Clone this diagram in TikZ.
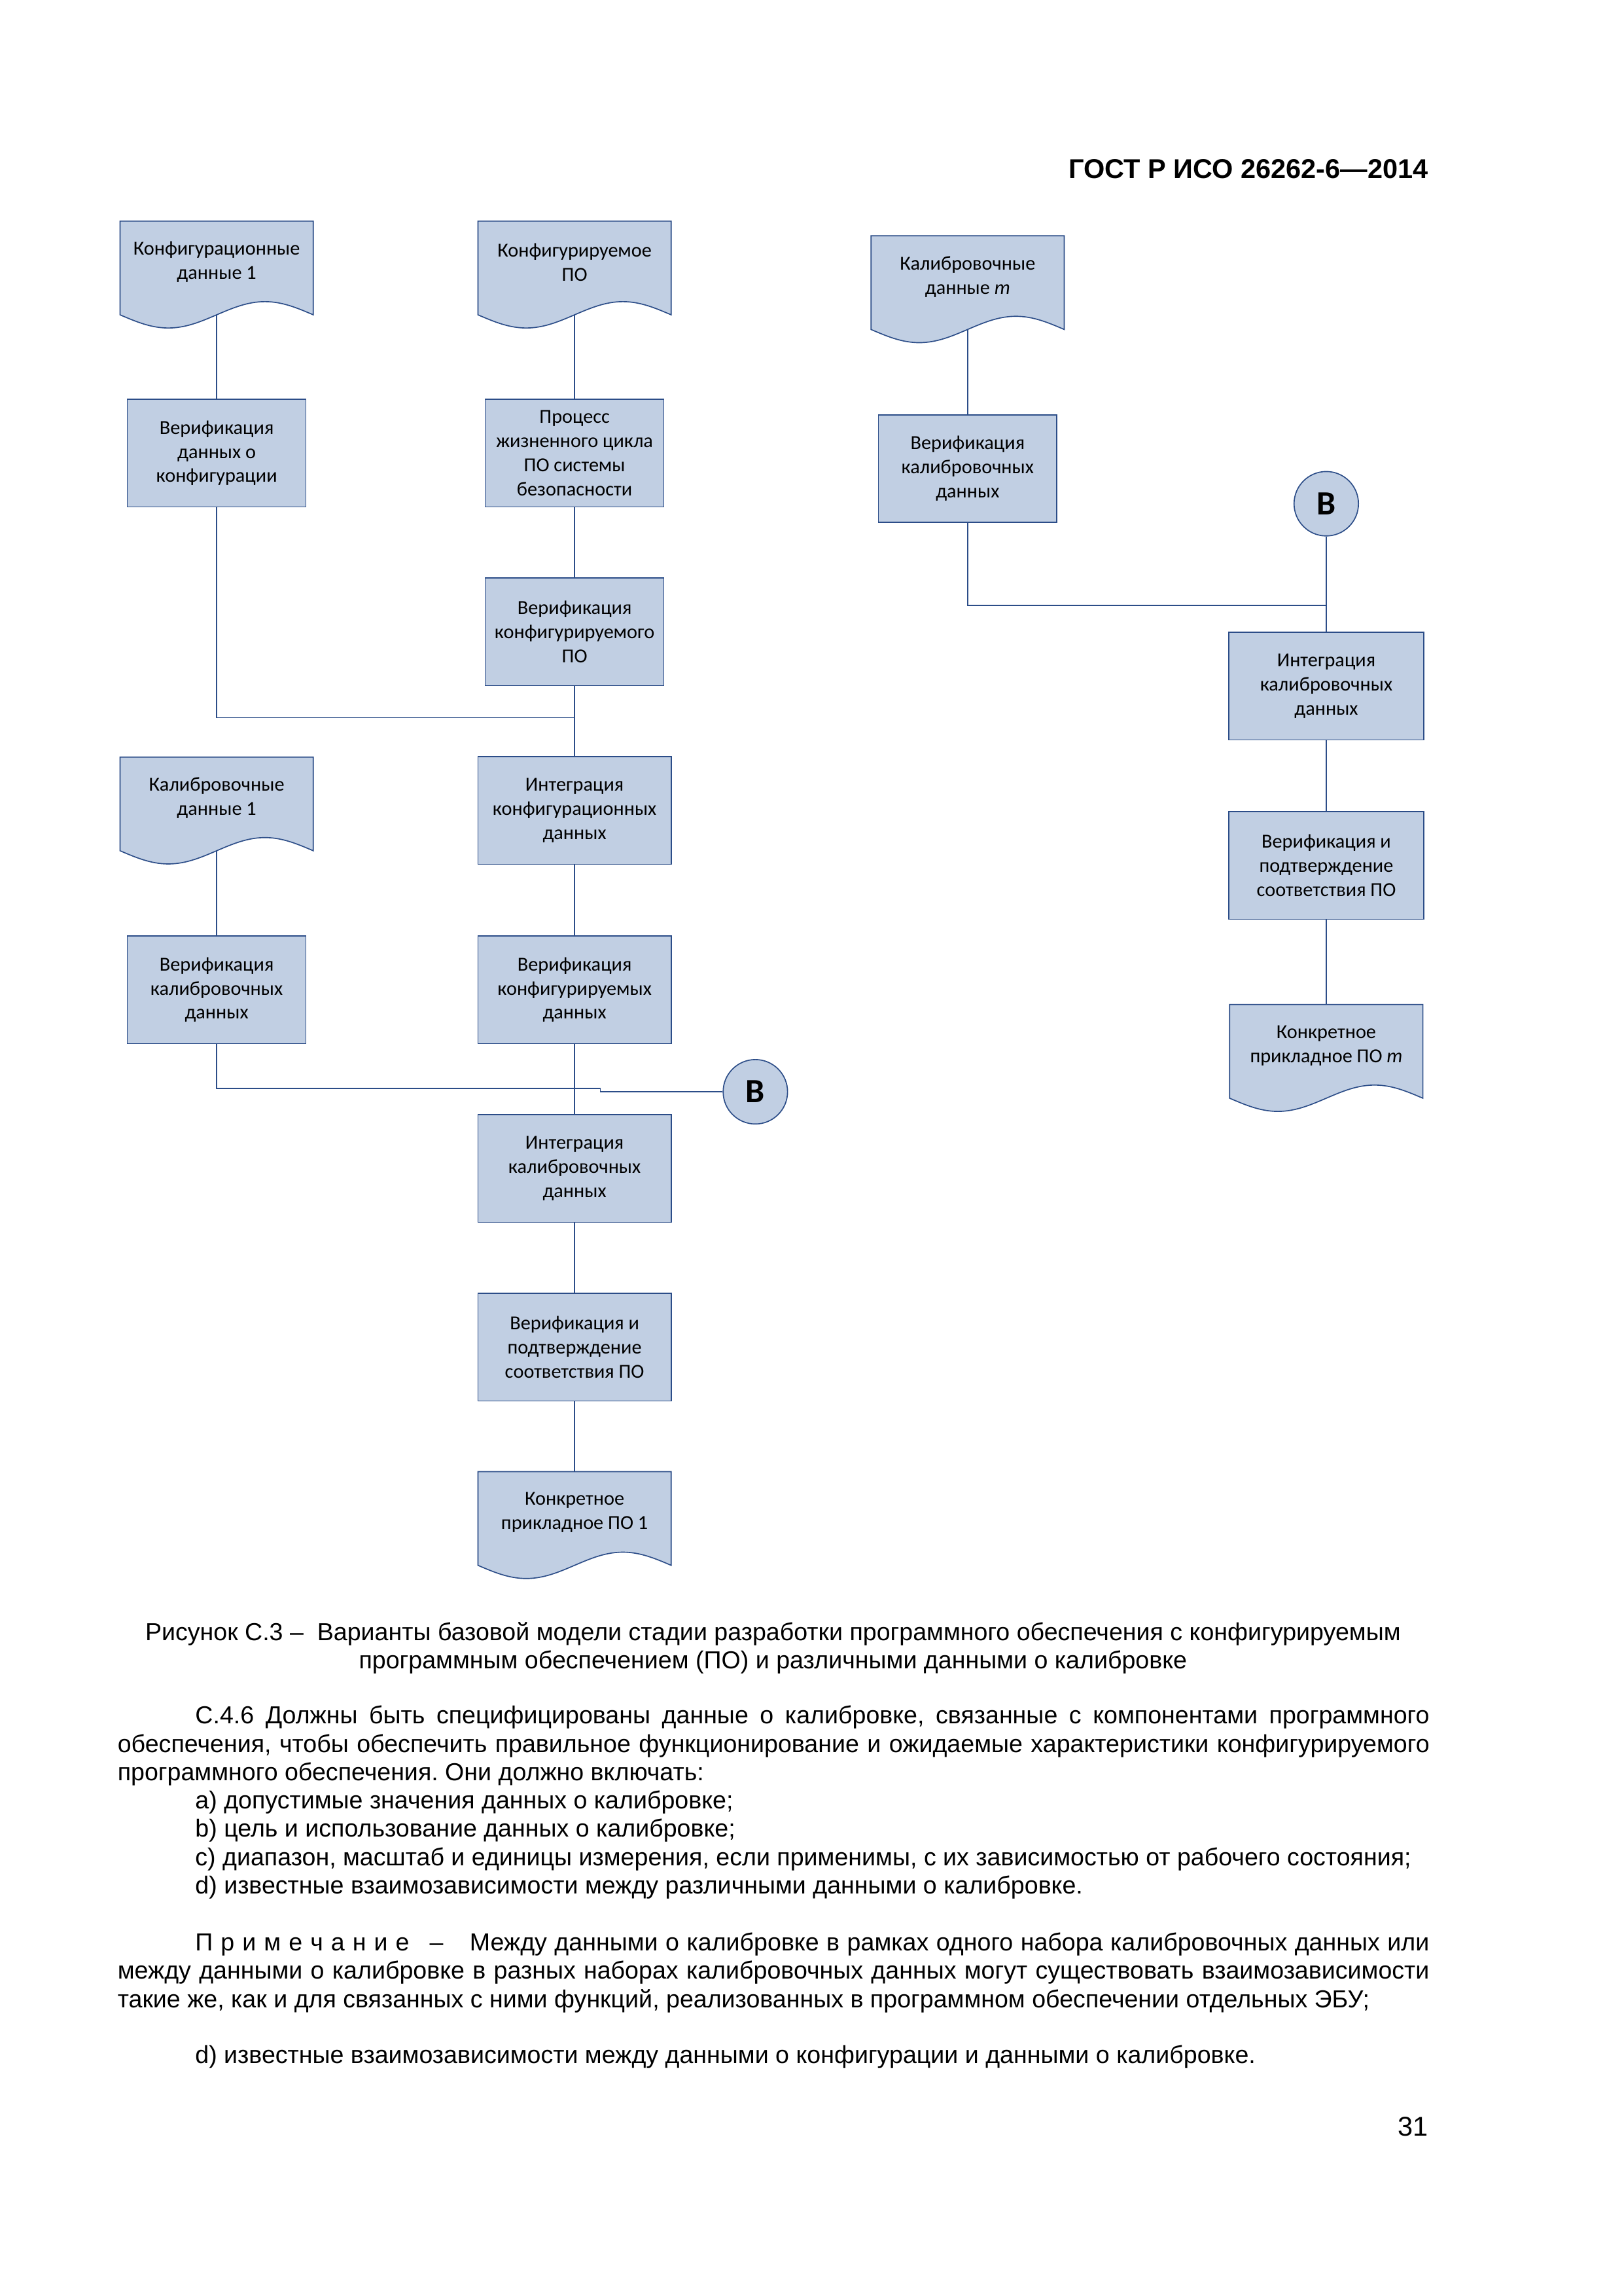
\documentclass[tikz,border=0pt]{standalone}
\usepackage{fontspec}
\setmainfont{Liberation Sans}
\newfontfamily\carlito{Carlito}
\definecolor{fillc}{HTML}{C1CFE3}
\definecolor{linec}{HTML}{2C4D88}
\newcommand\ls{\hspace{2.9pt}}
\frenchspacing
% doc shape: name, center x, top y, width, text
\newcommand\docnode[5]{%
  \filldraw[shp] ({#2-#4/2},#3) -- ({#2+#4/2},#3) -- ({#2+#4/2},{#3+64})
     sin ++({-#4/4},-9) cos ++({-#4/4},9) sin ++({-#4/4},9) cos ++({-#4/4},-9) -- cycle;
  \node[txt] (#1) at (#2,{#3+28}) {#5};
  \coordinate (#1t) at (#2,#3);
  \coordinate (#1b) at (#2,{#3+64});
}
\begin{document}
\begin{tikzpicture}[x=0.18936mm,y=-0.18936mm,
  shp/.style={fill=fillc,draw=linec,line width=0.4pt},
  conn/.style={draw=linec,line width=0.35pt},
  txt/.style={font=\carlito\fontsize{7.3}{8.86}\selectfont,align=center,inner sep=0pt},
  box/.style={shp,txt,minimum height=73.5*0.18936mm,minimum width=#1*0.18936mm},
  box/.default=122,
  circ/.style={shp,circle,minimum size=44*0.18936mm,inner sep=0pt,font=\carlito\bfseries\fontsize{12.5}{14}\selectfont},
  bodyfont/.style={font=\fontsize{9.05}{10.41}\selectfont,inner sep=0pt}
]
\fill[white] (0,0) rectangle (1109,1568);
\useasboundingbox (0,0) rectangle (1109,1568);

\node[anchor=base east,inner sep=0pt,font=\bfseries\fontsize{10}{12}\selectfont] (hdr) at (976,122) {ГОСТ Р ИСО 26262-6—2014};

% left column A and column B
\docnode{A1}{148}{151}{132}{Конфигурационные\\данные 1}
\docnode{B1}{392.5}{151}{132}{Конфигурируемое\\ПО}
\node[box] (A2) at (148,309.5) {Верификация\\данных о\\конфигурации};
\node[box] (B2) at (392.5,309.5) {Процесс\\жизненного цикла\\ПО системы\\безопасности};
\node[box] (B3) at (392.5,431.5) {Верификация\\конфигурируемого\\ПО};
\docnode{A3}{148}{517}{132}{Калибровочные\\данные 1}
\node[box=132] (B4) at (392.5,553.5) {Интеграция\\конфигурационных\\данных};
\node[box] (A4) at (148,676) {Верификация\\калибровочных\\данных};
\node[box=132] (B5) at (392.5,676) {Верификация\\конфигурируемых\\данных};
\node[circ] (Bl) at (516,745.6) {B};
\node[box=132] (B6) at (392.5,798) {Интеграция\\калибровочных\\данных};
\node[box=132] (B7) at (392.5,920) {Верификация и\\подтверждение\\соответствия ПО};
\docnode{B8}{392.5}{1005}{132}{Конкретное\\прикладное ПО 1}

% right columns C and D
\docnode{C1}{661}{161}{132}{Калибровочные\\данные \textit{m}}
\node[box] (C2) at (661,320) {Верификация\\калибровочных\\данных};
\node[circ] (Br) at (906,344) {B};
\node[box=133] (D1) at (906,468.5) {Интеграция\\калибровочных\\данных};
\node[box=133] (D2) at (906,591) {Верификация и\\подтверждение\\соответствия ПО};
\docnode{D3}{906}{686}{132}{Конкретное\\прикладное ПО \textit{m}}

% connectors
\coordinate (J1) at (392.5,490);
\coordinate (S1) at (410,743.3);
\coordinate (S2) at (410,745.6);
\coordinate (J2) at (906,413.5);
\draw[conn] (A1b) -- (A2.north);
\draw[conn] (B1b) -- (B2.north);
\draw[conn] (B2.south) -- (B3.north);
\draw[conn] (B3.south) -- (B4.north);
\draw[conn] (A2.south) |- (J1);
\draw[conn] (A3b) -- (A4.north);
\draw[conn] (B4.south) -- (B5.north);
\draw[conn] (B5.south) -- (B6.north);
\draw[conn] (A4.south) |- (S1) -- (S2) -- (Bl.west);
\draw[conn] (B6.south) -- (B7.north);
\draw[conn] (B7.south) -- (B8t);
\draw[conn] (C1b) -- (C2.north);
\draw[conn] (C2.south) |- (J2);
\draw[conn] (Br.south) -- (D1.north);
\draw[conn] (D1.south) -- (D2.north);
\draw[conn] (D2.south) -- (D3t);

% caption and text
\node[bodyfont,anchor=base] (cap) at (528,1120.3) {\parbox[t]{169.67mm}{\centering Рисунок С.3 –~ Варианты базовой модели стадии разработки программного обеспечения с конфигурируемым\\программным обеспечением (ПО) и различными данными о калибровке}};

\node[bodyfont,anchor=base west] (body) at (80,1177.3) {\parbox[t]{169.67mm}{\fontsize{9.05}{10.41}\selectfont
\hspace*{10.04mm}С.4.6 Должны быть специфицированы данные о калибровке, связанные с компонентами программного\linebreak
обеспечения, чтобы обеспечить правильное функционирование и ожидаемые характеристики конфигурируемого\linebreak
программного обеспечения. Они должно включать:\\
\hspace*{10.04mm}a) допустимые значения данных о калибровке;\\
\hspace*{10.04mm}b) цель и использование данных о калибровке;\\
\hspace*{10.04mm}c) диапазон, масштаб и единицы измерения, если применимы, с их зависимостью от рабочего состояния;\\
\hspace*{10.04mm}d) известные взаимозависимости между различными данными о калибровке.}};

\node[bodyfont,anchor=base west] (note) at (80,1332.3) {\parbox[t]{169.67mm}{\fontsize{9.05}{10.41}\selectfont
\hspace*{10.04mm}П\ls р\ls и\ls м\ls е\ls ч\ls а\ls н\ls и\ls е\hspace{7.5pt}–\hspace{9.7pt}Между данными о калибровке в рамках одного набора калибровочных данных или\linebreak
между данными о калибровке в разных наборах калибровочных данных могут существовать взаимозависимости\linebreak
такие же, как и для связанных с ними функций, реализованных в программном обеспечении отдельных ЭБУ;}};

\node[bodyfont,anchor=base west] (last) at (133,1409) {d) известные взаимозависимости между данными о конфигурации и данными о калибровке.};

\node[anchor=base east,inner sep=0pt,font=\fontsize{10}{12}\selectfont] (pg) at (976,1458.7) {31};
\end{tikzpicture}
\end{document}
